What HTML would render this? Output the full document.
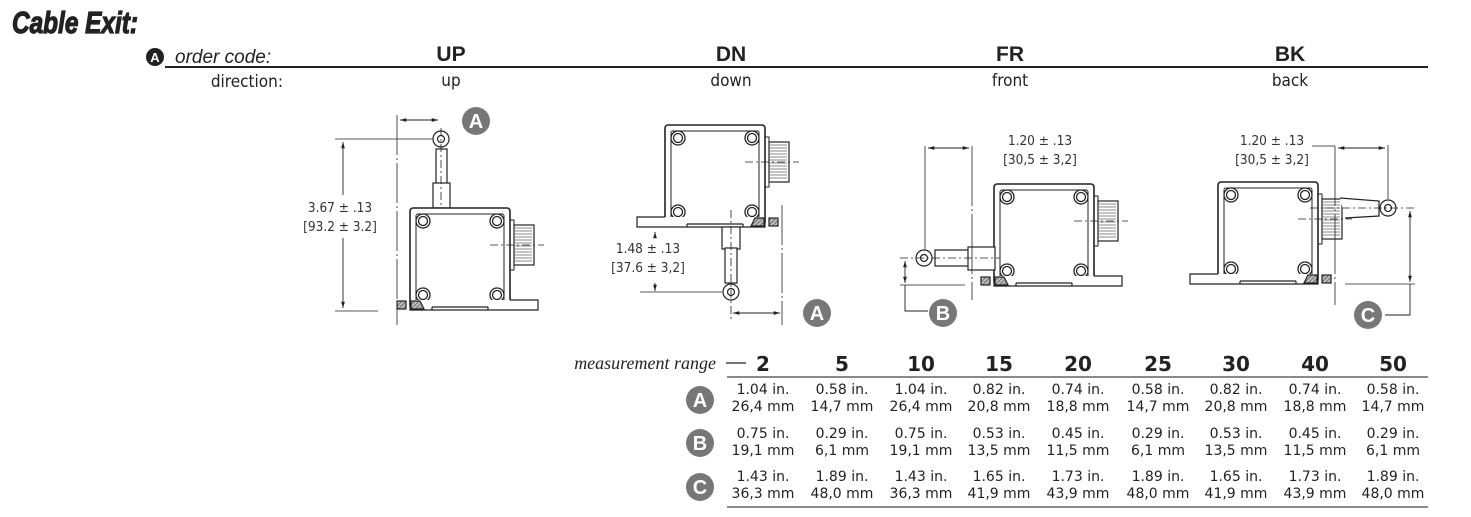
<!DOCTYPE html>
<html><head><meta charset="utf-8"><style>
html,body{margin:0;padding:0;background:#fff;width:1471px;height:517px;overflow:hidden}
svg{display:block}
.t{font-family:"DejaVu Sans Condensed","DejaVu Sans","Liberation Sans",sans-serif;fill:#222}
.d{font-family:"DejaVu Sans Condensed","Liberation Sans",sans-serif;font-size:13.5px;fill:#333}
.h{font-family:"Liberation Sans",sans-serif;font-weight:bold;font-size:21px;fill:#222}
.v{font-family:"DejaVu Sans","Liberation Sans",sans-serif;font-size:14px;fill:#222}
.n{font-family:"DejaVu Sans","Liberation Sans",sans-serif;font-weight:bold;font-size:20px;fill:#222}
.bd{fill:#777;}
.bl{font-family:"Liberation Sans",sans-serif;font-weight:bold;font-size:20px;fill:#fff}
</style></head><body>
<svg width="1471" height="517" viewBox="0 0 1471 517" xmlns="http://www.w3.org/2000/svg">
<defs>
<pattern id="hat" width="3" height="3" patternUnits="userSpaceOnUse" patternTransform="rotate(45)">
<rect width="3" height="3" fill="#bbb"/><line x1="0" y1="0" x2="0" y2="3" stroke="#333" stroke-width="1"/></pattern>
<marker id="ar" viewBox="0 0 10 10" refX="10" refY="5" markerWidth="7" markerHeight="7" orient="auto-start-reverse"><path d="M0,2 L10,5 L0,8 z" fill="#222"/></marker>
<g id="body" fill="none" stroke="#222">
<rect x="0" y="0" width="100" height="100" rx="3" stroke-width="1.6" fill="#fff"/>
<rect x="6" y="6" width="88" height="88" rx="2" stroke-width="1"/>
<g stroke-width="1.3">
<circle cx="13" cy="13" r="7"/><circle cx="13" cy="13" r="4.5"/>
<circle cx="87" cy="13" r="7"/><circle cx="87" cy="13" r="4.5"/>
<circle cx="13" cy="87" r="7"/><circle cx="13" cy="87" r="4.5"/>
<circle cx="87" cy="87" r="7"/><circle cx="87" cy="87" r="4.5"/>
</g>
<rect x="100" y="12" width="4" height="50" stroke-width="1"/>
<rect x="104" y="17" width="20" height="40" stroke-width="1.2"/>
<path d="M104,20h18M104,23h18M104,26h18M104,29h18M104,32h18M104,35h18M104,38h18M104,41h18M104,44h18M104,47h18M104,50h18M104,53h18" stroke="#666" stroke-width="0.8"/>
<line x1="80" y1="37" x2="134" y2="37" stroke-width="0.8" stroke-dasharray="8,3,2,3"/>
</g>
<g id="flR" stroke="#222" stroke-width="1.2">
<path d="M0,92 L0,102 L128,102 L128,92 L100,92" fill="#fff"/>
<rect x="-13" y="93" width="9" height="8" fill="url(#hat)"/>
<path d="M1,93 L10,93 L14,101 L1,101 z" fill="url(#hat)"/>
<line x1="22" y1="102" x2="22" y2="99" /><line x1="78" y1="102" x2="78" y2="99"/><line x1="22" y1="99" x2="78" y2="99"/>
</g>
<g id="flL" stroke="#222" stroke-width="1.2">
<path d="M100,92 L100,102 L-28,102 L-28,92 L0,92" fill="#fff"/>
<rect x="104" y="93" width="9" height="8" fill="url(#hat)"/>
<path d="M99,93 L90,93 L86,101 L99,101 z" fill="url(#hat)"/>
<line x1="22" y1="102" x2="22" y2="99"/><line x1="78" y1="102" x2="78" y2="99"/><line x1="22" y1="99" x2="78" y2="99"/>
</g>
</defs>

<!-- header -->
<text x="12" y="33" font-family="Liberation Sans Narrow,Liberation Sans,sans-serif" font-weight="bold" font-style="italic" font-size="31" fill="#222" stroke="#222" stroke-width="1.2" textLength="126" lengthAdjust="spacingAndGlyphs">Cable Exit:</text>
<circle cx="155" cy="57" r="9" fill="#222"/><text x="155" y="62" text-anchor="middle" font-family="Liberation Sans" font-weight="bold" font-size="13" fill="#fff">A</text>
<text x="175" y="63" font-family="Liberation Sans,sans-serif" font-style="italic" font-size="19" fill="#222">order code:</text>
<line x1="165" y1="67" x2="1428" y2="67" stroke="#222" stroke-width="2"/>
<text x="283" y="87" text-anchor="end" class="t" font-size="17">direction:</text>
<g class="h" text-anchor="middle"><text x="451" y="61">UP</text><text x="731" y="61">DN</text><text x="1010" y="61">FR</text><text x="1290" y="61">BK</text></g>
<g class="t" font-size="17" text-anchor="middle"><text x="451" y="86">up</text><text x="731" y="86">down</text><text x="1010" y="86">front</text><text x="1290" y="86">back</text></g>

<!-- UP -->
<g stroke="#222" fill="none" stroke-width="1.2">
<rect x="436" y="149" width="11" height="36" fill="#fff"/>
<rect x="433" y="183" width="17" height="25" fill="#fff"/>
<circle cx="441" cy="139" r="8" fill="#fff"/><circle cx="441" cy="139" r="3.5"/>
<line x1="441" y1="128" x2="441" y2="245" stroke-width="0.8" stroke-dasharray="8,3,2,3"/>
<line x1="397" y1="115" x2="397" y2="325" stroke-width="0.8" stroke-dasharray="40,3,2,3"/>
<line x1="335" y1="139" x2="433" y2="139" stroke-width="0.8"/>
<line x1="335" y1="311" x2="378" y2="311" stroke-width="0.8"/>
<line x1="343" y1="142" x2="343" y2="195" stroke-width="0.9" marker-start="url(#ar)"/>
<line x1="343" y1="238" x2="343" y2="308" stroke-width="0.9" marker-end="url(#ar)"/>
<line x1="400" y1="120" x2="438" y2="120" stroke-width="0.9" marker-start="url(#ar)" marker-end="url(#ar)"/>
</g>
<use href="#body" x="410" y="208"/>
<use href="#flR" x="410" y="208"/>
<text x="340" y="212" text-anchor="middle" class="d">3.67 ± .13</text>
<text x="340" y="231" text-anchor="middle" class="d">[93.2 ± 3.2]</text>
<circle cx="476" cy="121" r="14" class="bd"/><text x="476" y="128" text-anchor="middle" class="bl">A</text>

<!-- DN -->
<use href="#body" x="665" y="125"/>
<use href="#flL" x="665" y="125"/>
<g stroke="#222" fill="none" stroke-width="1.2">
<rect x="722" y="227" width="18" height="22" fill="#fff"/>
<rect x="725" y="248" width="12" height="35" fill="#fff"/>
<circle cx="731" cy="292" r="8" fill="#fff"/><circle cx="731" cy="292" r="3.5"/>
<line x1="731" y1="210" x2="731" y2="322" stroke-width="0.8" stroke-dasharray="8,3,2,3"/>
<line x1="782" y1="205" x2="782" y2="325" stroke-width="0.8" stroke-dasharray="40,3,2,3"/>
<line x1="640" y1="292" x2="722" y2="292" stroke-width="0.8"/>
<line x1="655" y1="237" x2="655" y2="232" stroke-width="0.9" marker-end="url(#ar)"/>
<line x1="655" y1="283" x2="655" y2="291" stroke-width="0.9" marker-end="url(#ar)"/>
<line x1="733" y1="313" x2="780" y2="313" stroke-width="0.9" marker-start="url(#ar)" marker-end="url(#ar)"/>
</g>
<text x="648" y="253" text-anchor="middle" class="d">1.48 ± .13</text>
<text x="648" y="272" text-anchor="middle" class="d">[37.6 ± 3,2]</text>
<circle cx="817" cy="313" r="14" class="bd"/><text x="817" y="320" text-anchor="middle" class="bl">A</text>

<!-- FR -->
<use href="#body" x="994" y="184"/>
<use href="#flR" x="994" y="184"/>
<g stroke="#222" fill="none" stroke-width="1.2">
<rect x="935" y="250" width="34" height="16" fill="#fff"/>
<rect x="968" y="247" width="27" height="23" fill="#fff"/>
<circle cx="924" cy="258" r="8" fill="#fff"/><circle cx="924" cy="258" r="3.5"/>
<line x1="900" y1="258" x2="1000" y2="258" stroke-width="0.8" stroke-dasharray="8,3,2,3"/>
<line x1="925" y1="146" x2="925" y2="249" stroke-width="0.8"/>
<line x1="972" y1="146" x2="972" y2="300" stroke-width="0.8" stroke-dasharray="60,3,2,3"/>
<line x1="900" y1="285" x2="965" y2="285" stroke-width="0.8"/>
<line x1="928" y1="148" x2="969" y2="148" stroke-width="0.9" marker-start="url(#ar)" marker-end="url(#ar)"/>
<line x1="905" y1="261" x2="905" y2="283" stroke-width="0.9" marker-start="url(#ar)" marker-end="url(#ar)"/>
<polyline points="905,285 905,311 928,311" stroke-width="0.9"/>
</g>
<text x="1040" y="145" text-anchor="middle" class="d">1.20 ± .13</text>
<text x="1040" y="164" text-anchor="middle" class="d">[30,5 ± 3,2]</text>
<circle cx="943" cy="313" r="14" class="bd"/><text x="943" y="320" text-anchor="middle" class="bl">B</text>

<!-- BK -->
<use href="#body" x="1218" y="182"/>
<use href="#flL" x="1218" y="182"/>
<g stroke="#222" fill="none" stroke-width="1.2">
<path d="M1340,198 L1379,201 L1379,216 L1345,218" fill="#fff"/>
<circle cx="1388" cy="208" r="8" fill="#fff"/><circle cx="1388" cy="208" r="3.5"/>
<line x1="1310" y1="208" x2="1415" y2="208" stroke-width="0.8" stroke-dasharray="8,3,2,3"/>
<line x1="1388" y1="145" x2="1388" y2="199" stroke-width="0.8"/>
<line x1="1335" y1="146" x2="1335" y2="305" stroke-width="0.8" stroke-dasharray="60,3,2,3"/>
<line x1="1312" y1="146" x2="1335" y2="146" stroke-width="0.8"/>
<line x1="1345" y1="284" x2="1415" y2="284" stroke-width="0.8"/>
<line x1="1338" y1="148" x2="1385" y2="148" stroke-width="0.9" marker-start="url(#ar)" marker-end="url(#ar)"/>
<line x1="1410" y1="211" x2="1410" y2="282" stroke-width="0.9" marker-start="url(#ar)" marker-end="url(#ar)"/>
<polyline points="1410,284 1410,315 1385,315" stroke-width="0.9"/>
</g>
<text x="1272" y="145" text-anchor="middle" class="d">1.20 ± .13</text>
<text x="1272" y="164" text-anchor="middle" class="d">[30,5 ± 3,2]</text>
<circle cx="1368" cy="315" r="14" class="bd"/><text x="1368" y="322" text-anchor="middle" class="bl">C</text>

<!-- table -->
<text x="716" y="369" text-anchor="end" font-family="Liberation Serif,serif" font-style="italic" font-size="18" fill="#222">measurement range</text>
<line x1="726" y1="363" x2="746" y2="363" stroke="#222" stroke-width="1.2"/>
<g class="n" text-anchor="middle">
<text x="763" y="371">2</text><text x="842" y="371">5</text><text x="921" y="371">10</text><text x="999" y="371">15</text><text x="1078" y="371">20</text><text x="1158" y="371">25</text><text x="1236" y="371">30</text><text x="1315" y="371">40</text><text x="1393" y="371">50</text>
</g>
<line x1="727" y1="377" x2="1428" y2="377" stroke="#444" stroke-width="1.3"/>
<line x1="727" y1="507" x2="1428" y2="507" stroke="#444" stroke-width="1.3"/>
<circle cx="700" cy="400" r="14" class="bd"/><text x="700" y="407" text-anchor="middle" class="bl">A</text>
<circle cx="700" cy="443" r="14" class="bd"/><text x="700" y="450" text-anchor="middle" class="bl">B</text>
<circle cx="700" cy="487" r="14" class="bd"/><text x="700" y="494" text-anchor="middle" class="bl">C</text>
<g class="v" text-anchor="middle">
<text x="763" y="394">1.04 in.</text><text x="842" y="394">0.58 in.</text><text x="921" y="394">1.04 in.</text><text x="999" y="394">0.82 in.</text><text x="1078" y="394">0.74 in.</text><text x="1158" y="394">0.58 in.</text><text x="1236" y="394">0.82 in.</text><text x="1315" y="394">0.74 in.</text><text x="1393" y="394">0.58 in.</text>
<text x="763" y="411">26,4 mm</text><text x="842" y="411">14,7 mm</text><text x="921" y="411">26,4 mm</text><text x="999" y="411">20,8 mm</text><text x="1078" y="411">18,8 mm</text><text x="1158" y="411">14,7 mm</text><text x="1236" y="411">20,8 mm</text><text x="1315" y="411">18,8 mm</text><text x="1393" y="411">14,7 mm</text>
<text x="763" y="438">0.75 in.</text><text x="842" y="438">0.29 in.</text><text x="921" y="438">0.75 in.</text><text x="999" y="438">0.53 in.</text><text x="1078" y="438">0.45 in.</text><text x="1158" y="438">0.29 in.</text><text x="1236" y="438">0.53 in.</text><text x="1315" y="438">0.45 in.</text><text x="1393" y="438">0.29 in.</text>
<text x="763" y="455">19,1 mm</text><text x="842" y="455">6,1 mm</text><text x="921" y="455">19,1 mm</text><text x="999" y="455">13,5 mm</text><text x="1078" y="455">11,5 mm</text><text x="1158" y="455">6,1 mm</text><text x="1236" y="455">13,5 mm</text><text x="1315" y="455">11,5 mm</text><text x="1393" y="455">6,1 mm</text>
<text x="763" y="481">1.43 in.</text><text x="842" y="481">1.89 in.</text><text x="921" y="481">1.43 in.</text><text x="999" y="481">1.65 in.</text><text x="1078" y="481">1.73 in.</text><text x="1158" y="481">1.89 in.</text><text x="1236" y="481">1.65 in.</text><text x="1315" y="481">1.73 in.</text><text x="1393" y="481">1.89 in.</text>
<text x="763" y="498">36,3 mm</text><text x="842" y="498">48,0 mm</text><text x="921" y="498">36,3 mm</text><text x="999" y="498">41,9 mm</text><text x="1078" y="498">43,9 mm</text><text x="1158" y="498">48,0 mm</text><text x="1236" y="498">41,9 mm</text><text x="1315" y="498">43,9 mm</text><text x="1393" y="498">48,0 mm</text>
</g>
</svg>
</body></html>
